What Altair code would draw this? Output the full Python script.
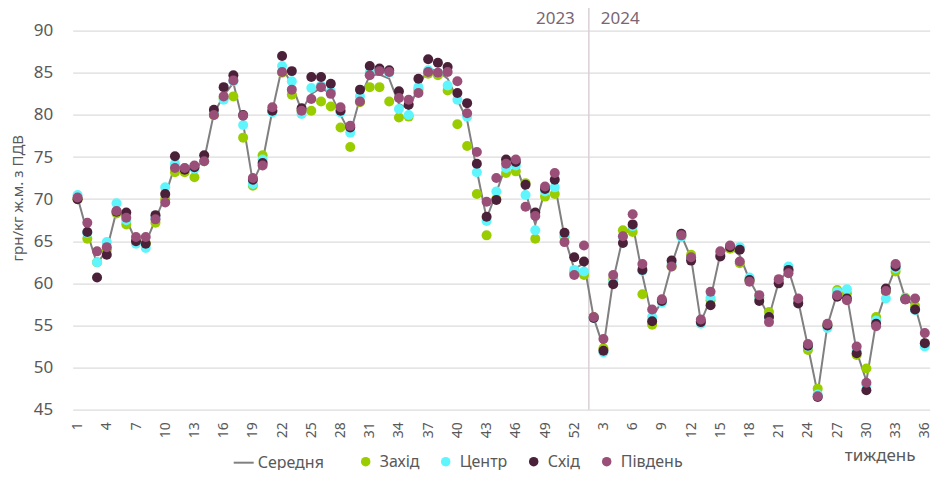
import altair as alt
import pandas as pd

# ---- data ----
weeks_2023 = list(range(1, 53))
weeks_2024 = list(range(1, 37))
week_labels = weeks_2023 + weeks_2024  # category labels, 88 weeks

series_names = ["Середня", "Захід", "Центр", "Схід", "Південь"]

serednia = [70.2, 66.0, 62.3, 64.0, 68.6, 67.6, 65.0, 64.8, 67.6, 70.4,
            74.0, 73.5, 73.5, 74.7, 80.2, 82.3, 83.8, 79.0, 72.0, 74.5,
            80.5, 85.7, 83.6, 80.5, 82.5, 83.2, 82.5, 80.0, 77.8, 82.0,
            84.7, 84.8, 84.3, 81.3, 80.7, 83.3, 85.5, 85.2, 84.3, 81.8,
            79.4, 73.4, 67.7, 70.8, 74.0, 74.1, 70.8, 67.0, 71.0, 71.8,
            65.5, 61.7, 62.4, 55.9, 52.4, 60.4, 65.5, 67.0, 61.0, 55.9,
            57.9, 62.2, 65.7, 63.0, 55.4, 58.2, 63.5, 64.3, 63.3, 60.4,
            58.3, 56.0, 60.2, 61.6, 57.9, 52.5, 46.9, 55.0, 58.8, 58.6,
            51.9, 48.4, 55.4, 58.9, 61.9, 58.2, 57.3, 53.1]

zakhid = [70.0, 65.3, 62.5, 64.0, 68.3, 67.0, 65.0, 64.8, 67.2, 70.0,
          73.2, 73.2, 72.6, 74.5, 80.0, 82.0, 82.2, 77.3, 71.6, 75.2,
          80.5, 85.0, 82.4, 80.5, 80.5, 81.6, 81.0, 78.5, 76.2, 81.5,
          83.3, 83.3, 81.6, 79.7, 79.8, 83.0, 84.9, 84.7, 82.9, 78.9,
          76.3, 70.6, 65.7, 70.0, 73.1, 73.3, 71.9, 65.3, 70.3, 70.6,
          65.5, 61.3, 61.0, 56.0, 52.3, 60.5, 66.3, 66.1, 58.7, 55.1,
          57.9, 62.0, 65.6, 63.4, 55.5, 58.0, 63.4, 64.1, 62.4, 60.4,
          58.3, 56.6, 60.2, 61.6, 57.8, 52.1, 47.5, 55.0, 59.2, 58.8,
          51.5, 49.9, 56.0, 59.0, 61.4, 58.3, 57.3, 52.8]

tsentr = [70.5, 66.0, 62.5, 64.9, 69.5, 67.5, 64.7, 64.2, 67.8, 71.4,
          74.2, 73.7, 73.6, 74.5, 80.2, 81.8, 84.0, 78.8, 71.8, 74.7,
          80.3, 85.8, 84.0, 80.1, 83.2, 83.5, 82.8, 80.3, 77.9, 82.2,
          85.0, 85.3, 85.0, 80.7, 80.0, 83.3, 85.3, 85.0, 83.5, 81.8,
          79.8, 73.2, 67.4, 70.9, 73.7, 74.0, 70.5, 66.3, 70.9, 71.4,
          65.7, 61.6, 61.4, 55.9, 51.8, 60.2, 65.5, 66.8, 61.5, 56.0,
          57.7, 62.3, 65.5, 63.0, 55.2, 58.3, 63.5, 64.4, 64.3, 60.7,
          58.3, 56.0, 60.3, 62.0, 58.0, 52.5, 46.8, 54.7, 59.0, 59.3,
          52.0, 48.0, 55.6, 58.2, 61.8, 58.2, 56.8, 52.5]

skhid = [70.0, 66.1, 60.7, 63.4, 68.5, 68.4, 65.0, 64.7, 68.1, 70.6,
         75.1, 73.5, 73.8, 75.2, 80.6, 83.3, 84.7, 80.0, 72.3, 74.3,
         80.5, 87.0, 85.2, 80.8, 84.5, 84.5, 83.7, 80.5, 78.5, 83.0,
         85.8, 85.5, 85.3, 82.8, 81.2, 84.3, 86.6, 86.2, 85.7, 82.6,
         81.4, 74.2, 67.9, 69.9, 74.7, 74.4, 71.7, 68.4, 71.2, 72.3,
         66.0, 63.1, 62.6, 55.9, 52.0, 59.9, 64.8, 67.0, 61.6, 55.5,
         57.9, 62.7, 65.9, 62.7, 55.4, 57.4, 63.2, 64.3, 64.0, 60.4,
         57.9, 56.0, 60.0, 61.6, 57.6, 52.6, 46.5, 55.0, 58.4, 58.2,
         51.7, 47.3, 55.2, 59.4, 62.0, 58.1, 56.9, 52.9]

pivden = [70.2, 67.2, 63.8, 64.3, 68.6, 67.8, 65.5, 65.5, 67.6, 69.6,
          73.7, 73.7, 74.0, 74.5, 80.0, 82.2, 84.1, 79.9, 72.5, 74.0,
          80.9, 85.1, 83.0, 80.5, 81.9, 83.3, 82.5, 80.9, 78.7, 81.6,
          84.7, 85.2, 85.1, 82.0, 81.8, 82.6, 85.1, 85.0, 85.1, 84.0,
          80.2, 75.6, 69.7, 72.5, 74.2, 74.7, 69.1, 68.0, 71.5, 73.1,
          64.9, 61.0, 64.5, 56.0, 53.4, 61.0, 65.6, 68.2, 62.3, 56.9,
          58.1, 62.0, 65.7, 63.1, 55.7, 59.0, 63.8, 64.5, 62.6, 60.2,
          58.6, 55.4, 60.5, 61.2, 58.2, 52.8, 46.6, 55.2, 58.6, 58.0,
          52.5, 48.2, 54.9, 59.1, 62.3, 58.1, 58.2, 54.1]

region_colors = ["#9acd00", "#5ef6fc", "#4b2139", "#9a4f78"]
line_color = "#808080"

year_split = 52.5
year_names = ["2023", "2024"]

# ---- tables ----
n = len(week_labels)
line_df = pd.DataFrame({"idx": list(range(n)), "value": serednia,
                        "series": [series_names[0]] * n})

rows = []
for k, (name, vals) in enumerate(zip(series_names[1:], [zakhid, tsentr, skhid, pivden])):
    for i, v in enumerate(vals):
        rows.append({"idx": i, "value": v, "series": name, "rank": k})
pts_df = pd.DataFrame(rows)

split_df = pd.DataFrame({"idx": [year_split]})
years_df = pd.DataFrame({"idx": [year_split, year_split], "label": year_names})

label_arr = "[" + ",".join("'%d'" % w for w in week_labels) + "]"

FONT = "Noto Sans"
GREY = "#595959"

W = 857

x_axis = alt.Axis(
    values=list(range(0, n, 3)),
    labelExpr=label_arr + "[datum.value]",
    labelAngle=270, labelAlign="right", labelBaseline="middle",
    labelFontSize=14, labelColor=GREY, labelPadding=12, labelOffset=0,
    labelOverlap=False, labelFlush=False, labelBound=False,
    ticks=False, domain=False, grid=False,
    title="тиждень", titleFontSize=17, titleFontWeight="normal",
    titleColor=GREY, titleX=807, titleY=46, titleAlign="center",
    titleBaseline="middle", titleAngle=0,
)
x_scale = alt.Scale(domain=[-0.5, n - 0.5], nice=False, zero=False)


def xenc():
    return alt.X("idx:Q", scale=x_scale, axis=x_axis)


y_enc = alt.Y(
    "value:Q",
    scale=alt.Scale(domain=[45, 90], nice=False, zero=False),
    axis=alt.Axis(
        values=list(range(45, 91, 5)),
        labelFontSize=17, labelColor=GREY, labelPadding=20,
        ticks=False, domain=False, grid=True, gridColor="#dcdcdc", gridWidth=1.2,
        title="грн/кг ж.м. з ПДВ", titleFontSize=15, titleFontWeight="normal",
        titleColor=GREY, titleX=-55, titleY=167, titleAngle=270,
        titleAlign="center", titleBaseline="middle",
    ),
)

line = alt.Chart(line_df).mark_line(strokeWidth=2).encode(
    x=xenc(), y=y_enc,
    color=alt.Color("series:N",
                    scale=alt.Scale(domain=[series_names[0]], range=[line_color]),
                    legend=alt.Legend(orient="none", legendX=160, legendY=421,
                                      title=None, labelFontSize=16, labelColor=GREY,
                                      symbolType="stroke", symbolStrokeWidth=2,
                                      symbolSize=400, labelOffset=3)),
)

pts = alt.Chart(pts_df).mark_circle(size=100, opacity=1).encode(
    x=xenc(), y="value:Q",
    fill=alt.Fill("series:N",
                  scale=alt.Scale(domain=series_names[1:], range=region_colors),
                  legend=alt.Legend(orient="none", direction="horizontal",
                                    legendX=285, legendY=423, title=None,
                                    labelFontSize=16, labelColor=GREY,
                                    symbolSize=90, labelOffset=6, columnPadding=18,
                                    symbolStrokeWidth=0)),
    order=alt.Order("rank:Q"),
)

split = alt.Chart(split_df).mark_rule(color="#d9d0d6", strokeWidth=1.5).encode(
    x=xenc(), y=alt.value(-26), y2=alt.value(379),
)

y2023 = alt.Chart(years_df.iloc[[0]]).mark_text(
    align="right", dx=-14, baseline="middle", fontSize=17, color="#7a6674", font=FONT
).encode(x=xenc(), y=alt.value(-12), text="label:N")
y2024 = alt.Chart(years_df.iloc[[1]]).mark_text(
    align="left", dx=12, baseline="middle", fontSize=17, color="#7a6674", font=FONT
).encode(x=xenc(), y=alt.value(-12), text="label:N")

chart = alt.layer(split, line, pts, y2023, y2024).properties(
    width=W, height=379,
    autosize="none",
    padding={"left": 64.7, "top": 22.7, "right": 926 - 64.7 - W, "bottom": 60},
).configure(font=FONT).configure_view(stroke=None).configure_axisX(labelOverlap=False)

chart.save("out.html", embed_options={"renderer": "svg", "actions": False})
